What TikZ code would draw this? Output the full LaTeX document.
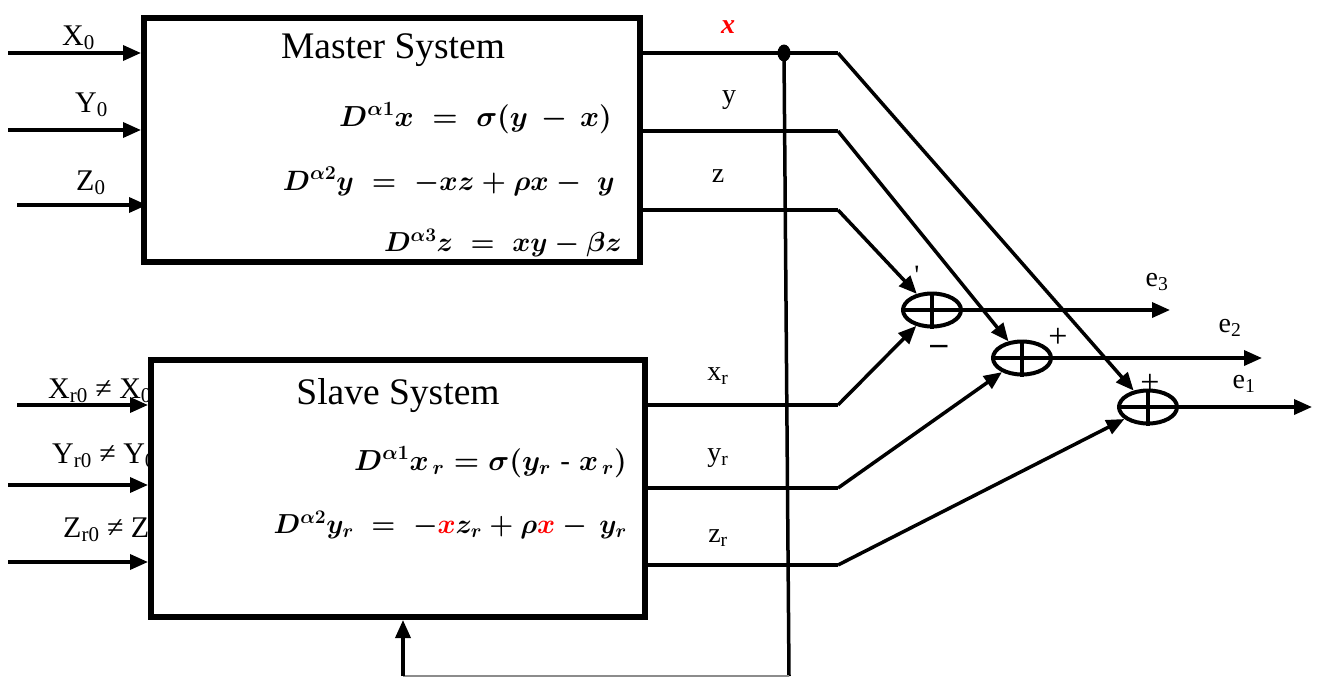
\RequirePackage{fix-cm}
\documentclass[tikz,border=0pt]{standalone}
\usepackage{fontspec}
\setmainfont{Liberation Serif}
\usetikzlibrary{arrows.meta,shapes.geometric}
\begin{document}
\begin{tikzpicture}[x=1pt,y=-1pt,
  arr/.style={-{Triangle[length=18pt,width=15pt]}},
  wire/.style={line width=3.5pt},
  sysbox/.style={draw,line width=6pt,fill=white,inner sep=0pt},
  summer/.style={draw,ellipse,line width=4pt,minimum width=58pt,minimum height=33pt,inner sep=0pt},
  lbl/.style={font=\fontsize{28}{32}\selectfont,inner sep=0pt},
  inl/.style={font=\fontsize{30}{34}\selectfont,inner sep=0pt,anchor=base west},
  eq/.style={font=\fontsize{29}{34}\selectfont\boldmath,inner sep=0pt,anchor=base east},
  title/.style={font=\fontsize{37.5}{42}\selectfont,inner sep=0pt},
]
\useasboundingbox (0,0) rectangle (1320,678);

% input labels (drawn before the boxes so that the boxes cover them)
\node[inl] (lx0) at (62,45) {X\textsubscript{0}};
\node[inl] (ly0) at (75,112) {Y\textsubscript{0}};
\node[inl] (lz0) at (76,190) {Z\textsubscript{0}};
\node[inl] (lxr0) at (48,398) {X\textsubscript{r0} ≠ X\textsubscript{0}};
\node[inl] (lyr0) at (52,463) {Y\textsubscript{r0} ≠ Y\textsubscript{0}};
\node[inl] (lzr0) at (63,537) {Z\textsubscript{r0} ≠ Z\textsubscript{0}};

% boxes
\node[sysbox,minimum width=496pt,minimum height=244pt] (master) at (392,140) {};
\node[sysbox,minimum width=494pt,minimum height=257pt] (slave) at (398,488.5) {};

\node[title] (mt) at (393,50) {Master System};
\node[title] (st) at (398,396) {Slave System};

\node[eq] (m1) at (612,126) {$D^{\alpha1}x \;=\; \sigma(y\,-\,x)$};
\node[eq,font=\fontsize{28}{34}\selectfont\boldmath] (m2) at (615,190) {$D^{\alpha2}y \;=\; -xz+\rho x -\; y$};
\node[eq,font=\fontsize{27.5}{34}\selectfont\boldmath] (m3) at (622,251) {$D^{\alpha3}z \;=\; xy-\beta z$};
\node[eq] (s1e) at (627,470) {$D^{\alpha1}x_{\,r} = \sigma(y_r\;\mbox{-}\;x_{\,r})$};
\node[eq,font=\fontsize{27.5}{34}\selectfont\boldmath] (s2e) at (627,533) {$D^{\alpha2}y_r \;=\; -{\color{red}x}z_r+\rho{\color{red}x}-\,y_r$};

% inputs
\coordinate (i1) at (8,53);
\coordinate (i2) at (8,130);
\coordinate (i3) at (17,205);
\coordinate (i3e) at (147,205);
\coordinate (j1) at (17,405);
\coordinate (j2) at (8,485);
\coordinate (j3) at (8,562);
\draw[wire,arr] (i1) -- (i1 -| master.west);
\draw[wire,arr] (i2) -- (i2 -| master.west);
\draw[wire,arr] (i3) -- (i3e);
\draw[wire,arr] (j1) -- (j1 -| slave.west);
\draw[wire,arr] (j2) -- (j2 -| slave.west);
\draw[wire,arr] (j3) -- (j3 -| slave.west);

% output labels
\node[lbl,text=red] (lx) at (728,27) {\bfseries\itshape x};
\node[lbl] (ly) at (729,100) {y};
\node[lbl] (lz) at (718,176) {z};
\node[lbl] (lxr) at (718,376) {x\textsubscript{r}};
\node[lbl] (lyr) at (718,458) {y\textsubscript{r}};
\node[lbl] (lzr) at (718,538) {z\textsubscript{r}};

% bends
\coordinate (bx) at (838,53);
\coordinate (by) at (838,131);
\coordinate (bz) at (838,210);
\coordinate (bxr) at (838,405);
\coordinate (byr) at (838,488);
\coordinate (bzr) at (838,565);

% summers
\node[summer] (s1) at (932,310) {};
\node[summer] (s2) at (1022,358) {};
\node[summer] (s3) at (1148,407) {};
\foreach \s in {s1,s2,s3}{
  \draw[line width=4pt] (\s.north) -- (\s.south);
  \draw[line width=4pt] (\s.west) -- (\s.east);
}

% junction dot and feedback
\node[ellipse,fill,minimum width=13pt,minimum height=17pt,inner sep=0pt] (dot) at (784,53) {};
\coordinate (fb1) at (789,676);
\coordinate (fb2) at (403,676);
\draw[wire] (dot.center) -- (fb1);
\draw[line width=1.5pt,black!45] (fb1) -- (fb2);
\draw[wire,arr] (fb2) -- (fb2 |- slave.south);

% master outputs
\draw[wire] (bx -| master.east) -- (bx);
\draw[wire] (by -| master.east) -- (by);
\draw[wire] (bz -| master.east) -- (bz);
\draw[wire,arr] (bx) -- (s3);
\draw[wire,arr] (by) -- (s2);
\draw[wire,arr] (bz) -- (s1);

% slave outputs
\draw[wire] (bxr -| slave.east) -- (bxr);
\draw[wire] (byr -| slave.east) -- (byr);
\draw[wire] (bzr -| slave.east) -- (bzr);
\draw[wire,arr] (bxr) -- (s1);
\draw[wire,arr] (byr) -- (s2);
\draw[wire,arr] (bzr) -- (s3);

% errors
\coordinate (o3) at (1170,310);
\coordinate (o2) at (1262,358);
\coordinate (o1) at (1312,407);
\draw[wire,arr] (s1.east) -- (o3);
\draw[wire,arr] (s2.east) -- (o2);
\draw[wire,arr] (s3.east) -- (o1);
\node[lbl] (le3) at (1157,282) {e\textsubscript{3}};
\node[lbl] (le2) at (1230,328) {e\textsubscript{2}};
\node[lbl] (le1) at (1244,384) {e\textsubscript{1}};

% signs
\node[lbl] (p1) at (917,275) {\textquotesingle};
\node[lbl,font=\fontsize{34}{38}\selectfont] (p2) at (1058,338) {+};
\node[lbl,font=\fontsize{34}{38}\selectfont] (m2s) at (939,350) {\textbf{–}};
\node[lbl,font=\fontsize{34}{38}\selectfont] (p3) at (1150,384) {+};
\end{tikzpicture}
\end{document}
